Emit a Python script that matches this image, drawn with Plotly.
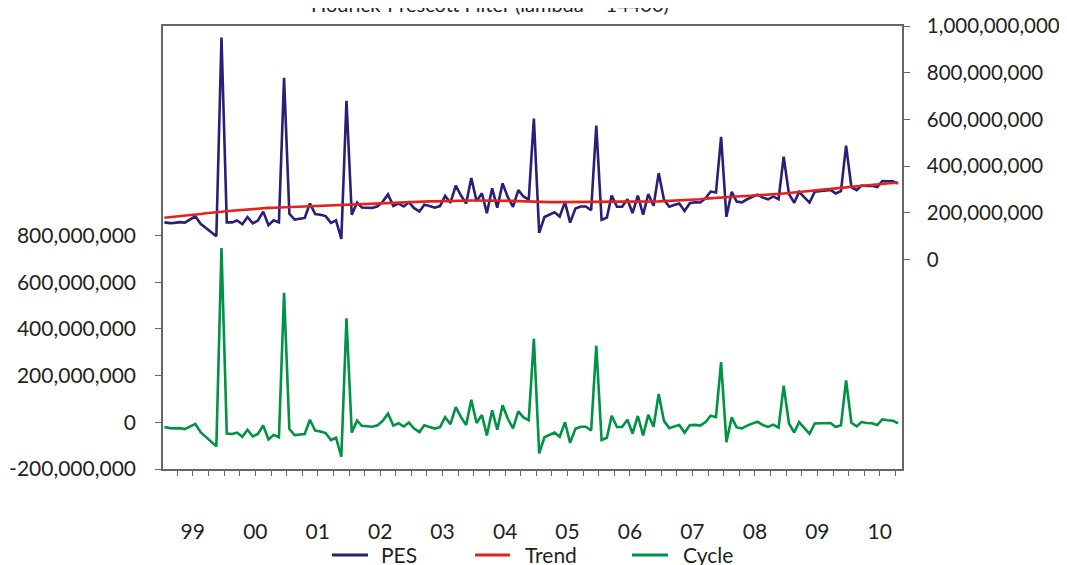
import numpy as np
import pandas as pd
import plotly.graph_objects as go

# Monthly observations Jan 1999 - Oct 2010 (values in millions)
dates = pd.date_range("1999-01-01", periods=142, freq="MS")

pes_m = [
    159, 156, 157, 160, 158, 173, 185, 153, 134, 119, 100, 951,   # 1999
    159, 159, 167, 151, 182, 155, 167, 205, 147, 168, 159, 778,   # 2000
    196, 171, 175, 178, 240, 195, 192, 186, 157, 168, 88, 680,    # 2001
    192, 244, 223, 222, 221, 228, 248, 279, 229, 240, 227, 245,   # 2002
    220, 206, 235, 229, 222, 229, 272, 243, 316, 275, 240, 349,   # 2003
    250, 284, 198, 305, 222, 326, 268, 225, 297, 270, 257, 604,   # 2004
    114, 182, 190, 202, 184, 246, 158, 218, 227, 227, 211, 574,   # 2005
    170, 180, 274, 226, 226, 258, 199, 274, 192, 280, 230, 370,   # 2006
    256, 226, 233, 240, 208, 241, 245, 244, 262, 291, 287, 525,   # 2007
    183, 290, 248, 245, 258, 268, 278, 265, 258, 270, 258, 440,   # 2008
    280, 243, 290, 266, 244, 290, 293, 297, 298, 283, 293, 488,   # 2009
    310, 297, 317, 315, 316, 310, 336, 335, 335, 325,             # 2010
]

trend_m = [
    179, 181, 183, 185, 187, 189, 192, 195, 198, 201, 203, 205,
    207, 209, 211, 213, 214, 215, 217, 219, 221, 222, 223, 224,
    225, 226, 227, 228, 229, 230, 231, 232, 233, 234, 235, 235,
    236, 237, 238, 239, 240, 241, 242, 242, 243, 244, 245, 246,
    247, 248, 248, 249, 249, 250, 250, 251, 251, 252, 252, 253,
    253, 253, 254, 254, 254, 253, 252, 251, 250, 249, 248, 247,
    247, 246, 246, 246, 246, 246, 246, 246, 246, 246, 246, 246,
    246, 246, 246, 246, 246, 247, 247, 247, 248, 248, 249, 249,
    250, 251, 251, 252, 253, 254, 256, 258, 261, 263, 265, 267,
    268, 269, 270, 271, 272, 273, 275, 277, 278, 280, 281, 283,
    285, 287, 289, 291, 293, 295, 297, 299, 301, 303, 306, 309,
    312, 314, 316, 318, 320, 322, 324, 326, 328, 330,
]

cycle_m = [
    -20, -25, -26, -25, -29, -16, -7, -42, -64, -82, -103, 746,
    -48, -50, -44, -62, -32, -60, -50, -14, -74, -54, -64, 554,
    -29, -55, -52, -50, 11, -35, -39, -46, -76, -66, -147, 445,
    -44, 7, -15, -17, -19, -13, 6, 37, -14, -4, -18, -1,
    -27, -42, -13, -20, -27, -21, 22, -8, 65, 23, -12, 96,
    -3, 31, -56, 51, -32, 73, 16, -26, 47, 21, 9, 357,
    -133, -64, -56, -44, -62, 0, -88, -28, -19, -19, -35, 328,
    -76, -66, 28, -20, -20, 11, -48, 27, -56, 32, -19, 121,
    6, -25, -18, -12, -45, -13, -11, -14, 1, 28, 22, 258,
    -85, 21, -22, -26, -14, -5, 3, -12, -20, -10, -23, 157,
    -5, -44, 1, -25, -49, -5, -4, -2, -3, -20, -13, 179,
    -2, -17, 1, -3, -4, -12, 12, 9, 7, -5,
]

year_labels = ["99", "00", "01", "02", "03", "04", "05", "06", "07", "08", "09", "10"]
left_ticks = [-200e6, 0, 200e6, 400e6, 600e6, 800e6]
right_ticks = [0, 200e6, 400e6, 600e6, 800e6, 1000e6]
series_names = ["PES", "Trend", "Cycle"]

pes = np.array(pes_m) * 1e6
trend = np.array(trend_m) * 1e6
cycle = np.array(cycle_m) * 1e6

# quarterly ticks placed between observations, labels at mid-year
tickvals, ticktext = [], []
for k, yr in enumerate(range(1999, 2011)):
    for mo, lab in ((3, ""), (6, year_labels[k]), (9, ""), (12, "")):
        tickvals.append(f"{yr}-{mo:02d}-16")
        ticktext.append(lab)

fmt = lambda v: f"{v:,.0f}"

FONT = "Lato"
TXT = "#231f20"
C_PES = "#2a1f78"
C_TREND = "#e2231a"
C_CYCLE = "#009245"
colors = [C_PES, C_TREND, C_CYCLE]
AX = "#666666"

fig = go.Figure()
fig.add_trace(go.Scatter(x=dates, y=pes, name="PES", mode="lines",
                         line=dict(color=C_PES, width=2.6), yaxis="y2"))
fig.add_trace(go.Scatter(x=dates, y=trend, name="Trend", mode="lines",
                         line=dict(color=C_TREND, width=2.6), yaxis="y2"))
fig.add_trace(go.Scatter(x=dates, y=cycle, name="Cycle", mode="lines",
                         line=dict(color=C_CYCLE, width=2.6), yaxis="y"))

# page is offset by the 8px body margin
OFF = 8
W, H = 1067, 565
PL, PR, PT, PB = 163, 902, 25.5, 469          # plot box in page pixels
L, R, T, B = PL - OFF, W - (PR - OFF), PT - OFF, H - (PB - OFF)
plot_w = PR - PL
plot_h = PB - PT

def px(xp):   # page x pixel -> paper
    return (xp - PL) / plot_w

def py(yp):   # page y pixel -> paper
    return (PB - yp) / plot_h

tf = dict(family=FONT, size=21, color=TXT)
tf_r = dict(family=FONT, size=20.5, color=TXT)

fig.update_layout(
    width=W, height=H,
    margin=dict(l=L, r=R, t=T, b=B, pad=0, autoexpand=False),
    paper_bgcolor="white", plot_bgcolor="white",
    font=dict(family=FONT, size=21, color=TXT),
    showlegend=False,
    xaxis=dict(type="date", range=["1998-12-24", "2010-10-24"],
               tickvals=tickvals, ticktext=ticktext,
               ticks="outside", ticklen=5, tickcolor=AX, tickwidth=1,
               ticklabelstandoff=38,
               showline=True, linecolor=AX, linewidth=1.5, mirror=True,
               showgrid=False, zeroline=False, automargin=False,
               tickfont=tf),
    yaxis=dict(range=[-200e6, 1697e6], tickvals=left_ticks,
               ticktext=[fmt(v) for v in left_ticks],
               ticks="outside", ticklen=6, tickcolor=AX,
               ticklabelstandoff=15,
               showline=True, linecolor=AX, linewidth=1.5,
               showgrid=False, zeroline=False, automargin=False,
               tickfont=tf),
    yaxis2=dict(range=[-897e6, 1000e6], tickvals=right_ticks,
                ticktext=[fmt(v) for v in right_ticks],
                ticks="outside", ticklen=6, tickcolor=AX,
                ticklabelstandoff=13,
                overlaying="y", side="right",
                showline=True, linecolor=AX, linewidth=1.5,
                showgrid=False, zeroline=False, automargin=False,
                tickfont=tf_r),
)

# Title (partly cut at the top, as in the original)
fig.add_annotation(text="Hodrick-Prescott Filter (lambda = 14400)",
                   xref="paper", yref="paper",
                   x=px(490), y=py(17),
                   xanchor="center", yanchor="bottom", showarrow=False,
                   font=dict(family=FONT, size=20, color=TXT))

# Legend drawn below the axis
leg_line_x = [(332, 368), (475, 510), (632, 668)]
leg_text_x = [379, 523, 681]
leg_y = 555
for name, col, (x0, x1), tx in zip(series_names, colors, leg_line_x, leg_text_x):
    fig.add_shape(type="line", xref="paper", yref="paper",
                  x0=px(x0), x1=px(x1), y0=py(leg_y), y1=py(leg_y),
                  line=dict(color=col, width=3))
    fig.add_annotation(text=name, xref="paper", yref="paper",
                       x=px(tx), y=py(leg_y), xanchor="left", yanchor="middle",
                       showarrow=False, font=tf)

fig.write_html("out.html")
